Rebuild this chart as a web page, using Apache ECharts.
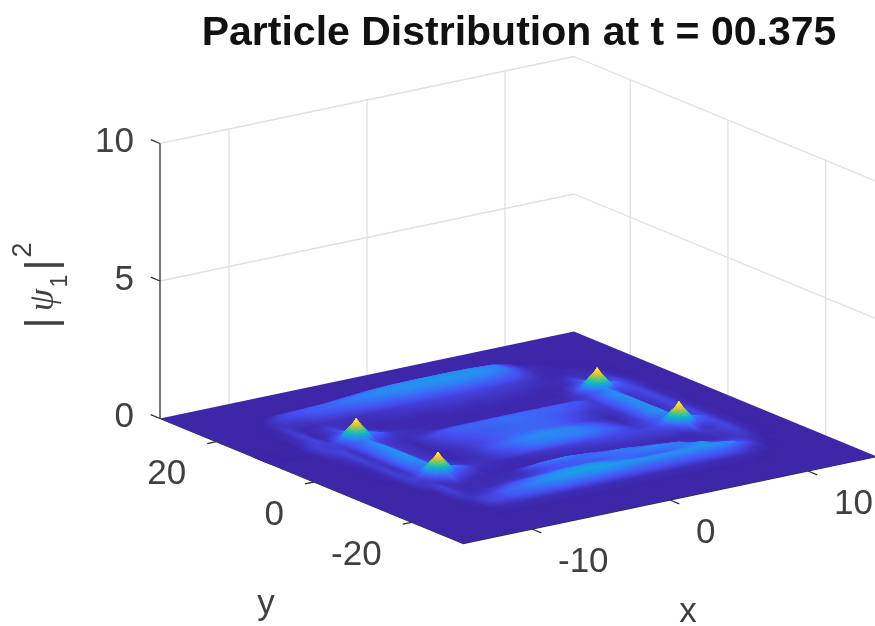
<!DOCTYPE html>
<html><head><meta charset="utf-8">
<style>html,body{margin:0;padding:0;background:#fff}#c{width:875px;height:626px;filter:blur(0.5px)}</style>
<script src="https://cdn.jsdelivr.net/npm/echarts@6/dist/echarts.min.js"></script>
</head><body><div id="c"></div>
<script>
const titleText = 'Particle Distribution at t = 00.375';
const xTicks = [-10, 0, 10];
const yTicks = [20, 0, -20];
const zTicks = [0, 5, 10];
const xRange = [-15, 15];
const yRange = [-30.5, 31.5];
const colorMax = 0.78;
const xs = [-15,-12,-11.1,-10.5,-9.75,-9.15,-8.55,-8.25,-7.95,-7.35,-5.7,-4.2,-2.4,-0.6,1.2,3,4.8,6.6,7.5,8.31,8.91,9.21,9.51,10.11,11.1,12,12.9,15];
const ys = [31.5,26.5,25.3,24.7,23.4,22.2,20.3,17.9,13.83,12.28,11.04,10.42,9.8,8.56,7.01,6.08,3.6,0.5,-2.29,-4.46,-5.7,-6.32,-6.94,-8.18,-9.73,-10.97,-12.21,-13.76,-15.62,-17.48,-19.34,-21.2,-23.68,-30.5];
// |psi_1|^2 x 100, one row per ys entry, one column per xs entry
const psiRows = [
[0,0,0,0,0,0,0,0,0,0,0,0,0,0,0,0,0,0,0,0,0,0,0,0,0,0,0,0],
[0,0,0,0,0,0,0,0,0,0,0,0,0,0,0,0,0,0,0,0,0,0,0,0,0,0,0,0],
[0,0,0,0,0,0,0,0,0,0,0,0,1,1,1,1,1,1,0,0,0,0,0,0,0,0,0,0],
[0,0,0,0,0,0,0,0,0,0,2,9,16,20,21,21,20,16,7,1,0,0,0,0,0,0,0,0],
[0,0,0,0,3,8,9,10,11,12,15,19,23,25,26,26,25,21,9,2,1,0,0,0,0,0,0,0],
[0,0,0,2,7,9,10,11,12,14,16,20,23,25,26,26,25,20,10,3,2,1,1,0,0,0,0,0],
[0,0,0,4,5,5,6,7,8,9,11,14,16,18,19,19,18,14,7,2,1,1,1,0,0,0,0,0],
[0,0,1,6,2,2,2,3,3,3,3,4,6,7,8,8,7,5,3,1,1,1,1,2,1,0,0,0],
[0,0,3,8,1,3,7,11,7,3,1,1,1,2,2,2,2,1,1,3,7,11,7,3,6,1,0,0],
[0,0,5,9,3,9,14,24,14,9,2,1,1,1,1,1,1,1,2,9,14,24,14,9,9,2,0,0],
[0,1,7,7,6,16,52,60,52,16,3,1,1,1,1,1,1,1,4,16,52,60,52,16,9,3,0,0],
[0,1,8,6,9,24,60,84,60,24,5,2,1,1,1,1,1,2,5,24,60,84,60,24,9,3,0,0],
[0,1,7,6,8,17,52,60,52,16,4,2,1,1,1,1,1,2,5,17,52,60,52,16,9,3,0,0],
[0,0,7,7,6,13,17,24,16,8,3,3,1,1,1,1,1,2,5,13,17,24,16,8,9,2,0,0],
[0,0,5,9,4,14,20,23,14,5,2,6,13,14,15,15,14,12,6,16,23,24,14,5,9,2,0,0],
[0,0,4,9,3,15,22,24,16,5,2,9,15,16,18,16,15,10,6,18,24,24,14,4,9,2,0,0],
[0,0,2,8,3,16,23,26,18,5,1,7,12,14,16,15,10,4,5,18,24,26,15,3,9,2,0,0],
[0,0,1,6,4,18,24,27,18,5,1,4,10,15,16,14,7,1,4,18,24,26,15,3,9,2,0,0],
[0,0,1,7,3,18,23,26,18,6,1,3,14,22,25,22,14,2,6,20,25,27,16,4,9,2,0,0],
[0,0,1,7,5,14,18,24,16,8,3,3,10,19,21,21,15,5,8,14,18,24,16,8,9,2,0,0],
[0,0,1,6,6,17,52,60,52,16,4,3,7,12,14,14,11,6,8,17,52,60,52,16,9,2,0,0],
[0,0,0,6,9,24,60,84,60,24,5,2,3,5,7,9,9,8,9,24,60,84,60,24,10,2,0,0],
[0,0,0,6,8,16,52,60,52,16,3,2,2,4,5,7,8,7,8,16,52,60,52,16,9,2,0,0],
[0,0,0,5,5,9,14,24,14,9,2,1,1,2,3,4,6,6,6,9,14,24,14,9,9,2,0,0],
[0,0,0,3,6,3,6,11,6,3,1,1,1,1,2,2,3,3,4,3,6,11,6,3,9,2,0,0],
[0,0,0,1,8,3,3,3,2,2,1,3,18,21,14,5,2,1,2,2,3,5,5,5,9,2,0,0],
[0,0,0,0,8,3,2,2,2,2,2,3,11,14,18,20,11,3,2,2,2,3,4,4,8,1,0,0],
[0,0,0,0,7,3,2,2,2,2,4,6,12,13,13,18,24,18,5,2,2,2,3,4,6,1,0,0],
[0,0,0,0,5,3,4,4,5,7,14,20,25,26,19,14,14,21,24,12,8,6,6,6,3,0,0,0],
[0,0,0,0,2,7,8,9,10,15,20,26,30,31,28,26,26,26,27,25,23,21,15,10,1,0,0,0],
[0,0,0,0,1,7,9,10,10,13,15,18,17,17,15,14,14,14,14,12,9,8,6,3,0,0,0,0],
[0,0,0,0,0,1,2,2,2,2,2,2,2,2,2,2,2,2,2,2,2,1,1,0,0,0,0,0],
[0,0,0,0,0,0,0,0,0,0,0,0,0,0,0,0,0,0,0,0,0,0,0,0,0,0,0,0],
[0,0,0,0,0,0,0,0,0,0,0,0,0,0,0,0,0,0,0,0,0,0,0,0,0,0,0,0]
];
const parula = [[62,38,168],[72,82,244],[46,135,247],[18,177,214],[55,200,151],[171,199,57],[254,195,56],[249,251,21]];

function color(z){
  const t = Math.min(1, Math.max(0, z / colorMax)) * (parula.length - 1);
  const k = Math.min(parula.length - 2, Math.floor(t)), f = t - k;
  const a = parula[k], b = parula[k + 1];
  return 'rgb(' + [0,1,2].map(c => Math.round(a[c] + (b[c] - a[c]) * f)).join(',') + ')';
}
// orthographic view of the box, in the plane of the hidden cartesian axes
function project(x, y, z){
  const u = (yRange[1] - y) / (yRange[1] - yRange[0]);
  const v = (x - xRange[0]) / (xRange[1] - xRange[0]);
  return [160 + 303 * u + 414 * v, 418.5 + 125 * u - 87 * v - 27.5 * z];
}

const cells = [];
for (let i = 0; i < ys.length - 1; i++) for (let j = xs.length - 2; j >= 0; j--) cells.push([i, j]);

function renderFloor(params, api){
  const yB = yRange[1], yF = yRange[0], xL = xRange[0], xR = xRange[1];
  return {
    type: 'polygon',
    shape: { points: [[xL, yB], [xR, yB], [xR, yF], [xL, yF]].map(c => api.coord(project(c[0], c[1], 0))) },
    style: { fill: color(0) }
  };
}

function renderSurface(params, api){
  const i = api.value(0), j = api.value(1);
  const a = psiRows[i][j] / 100, b = psiRows[i][j + 1] / 100, c = psiRows[i + 1][j] / 100, d = psiRows[i + 1][j + 1] / 100;
  if (a === 0 && b === 0 && c === 0 && d === 0) return null;
  const span = Math.max(Math.abs(xs[j + 1] - xs[j]) * 14, Math.abs(ys[i + 1] - ys[i]) * 5.3);
  const n = Math.max(2, Math.ceil(span / 2));
  const pt = (s, t) => {
    const z = (a * (1 - t) + b * t) * (1 - s) + (c * (1 - t) + d * t) * s;
    return [xs[j] + (xs[j + 1] - xs[j]) * t, ys[i] + (ys[i + 1] - ys[i]) * s, z];
  };
  const children = [];
  for (let p = 0; p < n; p++) for (let q = n - 1; q >= 0; q--) {
    const P = [pt(p / n, q / n), pt(p / n, (q + 1) / n), pt((p + 1) / n, (q + 1) / n), pt((p + 1) / n, q / n)];
    const col = color((P[0][2] + P[1][2] + P[2][2] + P[3][2]) / 4);
    children.push({
      type: 'polygon',
      shape: { points: P.map(r => api.coord(project(r[0], r[1], r[2]))) },
      style: { fill: col, stroke: col, lineWidth: 0.6 }
    });
  }
  return { type: 'group', children };
}

// segments: [x0,y0,z0,x1,y1,z1,kind]
const segments = [];
const yB = yRange[1], yF = yRange[0], xL = xRange[0], xR = xRange[1];
zTicks.slice(1).forEach(z => {
  segments.push([xL, yB, z, xR, yB, z, 0]);
  segments.push([xR, yB, z, xR, yF, z, 0]);
});
xTicks.forEach(x => {
  segments.push([x, yB, 0, x, yB, 10, 0]);
  segments.push([x, yF, 0, x, yF - 1.9, 0, 1]);
});
yTicks.forEach(y => {
  segments.push([xR, y, 0, xR, y, 10, 0]);
  segments.push([xL, y, 0, xL - 0.65, y, 0, 1]);
});
zTicks.forEach(z => segments.push([xL, yB, z, xL, yB + 1.9, z, 1]));
segments.push([xL, yB, 0, xL, yB, 10, 2]);
segments.push([xL, yB, 0, xL, yF, 0, 2]);
segments.push([xL, yF, 0, xR, yF, 0, 2]);

function renderSegment(params, api){
  const a = api.coord(project(api.value(0), api.value(1), api.value(2)));
  const b = api.coord(project(api.value(3), api.value(4), api.value(5)));
  const k = api.value(6);
  return {
    type: 'line',
    shape: { x1: a[0], y1: a[1], x2: b[0], y2: b[1] },
    style: { stroke: k === 0 ? '#e0e0e0' : '#2e2e2e', lineWidth: 1.3 }
  };
}

// tick labels: [text, x, y, z, align, dx, dy]
const labels = [];
zTicks.forEach(z => labels.push([String(z), xL, yB, z, 'right', -26, -1]));
yTicks.forEach(y => labels.push([String(y), xL, y, 0, 'right', -30, 33]));
xTicks.forEach(x => labels.push([String(x), x, yF, 0, 'left', 26, 33]));
labels.push(['y', xL, 0, 0, 'center', -48, 122]);
labels.push(['x', 0, yF, 0, 'center', 18, 112]);

function renderLabel(params, api){
  const L = labels[params.dataIndex];
  const c = api.coord(project(L[1], L[2], L[3]));
  return {
    type: 'text',
    style: { text: L[0], x: c[0] + L[5], y: c[1] + L[6], align: L[4], verticalAlign: 'middle',
      font: '35px "Liberation Sans"', fill: '#404040' }
  };
}

const yTitle = [['|', 43, 265, 42, 'Liberation Sans', 'normal'], ['ψ', 44, 300, 36, 'Liberation Serif', 'italic'], ['1', 61, 281, 23, 'Liberation Sans', 'normal'], ['|', 43, 323, 42, 'Liberation Sans', 'normal'], ['2', 24, 250, 27, 'Liberation Sans', 'normal']];
const hiddenAxis = { show: false, min: 0 };
const chart = echarts.init(document.getElementById('c'), null, { renderer: 'canvas' });
chart.setOption({
  animation: false,
  backgroundColor: '#fff',
  title: { text: titleText, left: 514, top: 8, textAlign: 'center',
    textStyle: { fontFamily: 'Liberation Sans', fontWeight: 'bold', fontSize: 41, color: '#111' } },
  grid: { left: 0, right: 0, top: 0, bottom: 0 },
  xAxis: Object.assign({ type: 'value', max: 875 }, hiddenAxis),
  yAxis: Object.assign({ type: 'value', max: 626, inverse: true }, hiddenAxis),
  graphic: yTitle.map(t => ({
    type: 'text', x: t[1], y: t[2], rotation: Math.PI / 2,
    style: { text: t[0], font: t[5] + ' ' + t[3] + 'px "' + t[4] + '"', fill: '#404040', align: 'center', verticalAlign: 'middle' }
  })),
  series: [
    { type: 'custom', coordinateSystem: 'cartesian2d', silent: true, clip: false, data: segments, renderItem: renderSegment, z: 1 },
    { type: 'custom', coordinateSystem: 'cartesian2d', silent: true, clip: false, data: [[0]], renderItem: renderFloor, z: 2 },
    { type: 'custom', coordinateSystem: 'cartesian2d', silent: true, clip: false, data: cells, renderItem: renderSurface, z: 2 },
    { type: 'custom', coordinateSystem: 'cartesian2d', silent: true, clip: false, data: labels.map((l, i) => [i]), renderItem: renderLabel, z: 3 }
  ]
});
</script>
</body></html>
